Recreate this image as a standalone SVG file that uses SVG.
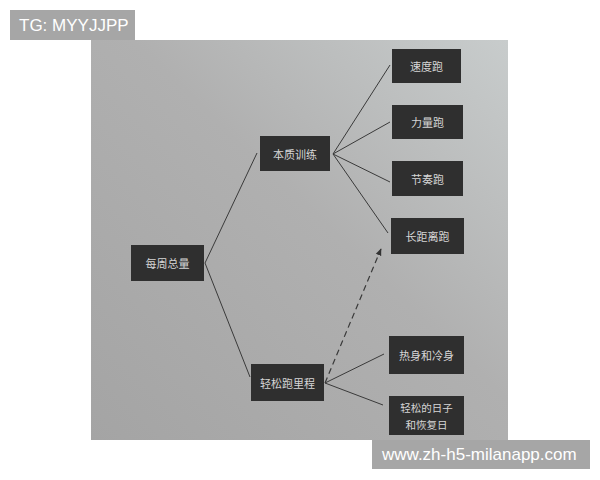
<svg xmlns="http://www.w3.org/2000/svg" width="600" height="480" viewBox="0 0 600 480">
<defs>
<linearGradient id="page" x1="0" y1="1" x2="1" y2="0">
<stop offset="0" stop-color="#a4a4a4"/>
<stop offset="0.55" stop-color="#b0b0b0"/>
<stop offset="1" stop-color="#c8cccc"/>
</linearGradient>
<marker id="ah" viewBox="0 0 10 10" refX="9" refY="5" markerWidth="6" markerHeight="6" orient="auto-start-reverse">
<path d="M0,1 L10,5 L0,9 z" fill="#333"/>
</marker>
<style>
.box{fill:#2f2f2f;}
.lbl{font-family:"Noto Sans CJK SC","Noto Sans",sans-serif;font-size:11px;fill:#d6d6d6;text-anchor:middle;dominant-baseline:central;}
.sm{font-size:10.5px;}
.ln{stroke:#3a3a3a;stroke-width:1;fill:none;}
.dash{stroke:#3a3a3a;stroke-width:1.2;fill:none;stroke-dasharray:6 4;}
.wm{fill:#a6a6a6;}
.wmt{font-family:"Liberation Sans",Arial,sans-serif;font-size:17px;fill:#ffffff;dominant-baseline:central;}
</style>
</defs>
<rect width="600" height="480" fill="#ffffff"/>
<rect x="91" y="40" width="417" height="400" fill="url(#page)"/>
<g id="connectors">
<line class="ln" x1="205" y1="263" x2="257" y2="153"/>
<line class="ln" x1="205" y1="263" x2="250" y2="377"/>
<line class="ln" x1="333" y1="154" x2="390" y2="65"/>
<line class="ln" x1="333" y1="154" x2="390" y2="122"/>
<line class="ln" x1="333" y1="154" x2="390" y2="182"/>
<line class="ln" x1="333" y1="154" x2="388" y2="233"/>
<line class="ln" x1="325" y1="383" x2="384" y2="354"/>
<line class="ln" x1="325" y1="383" x2="383" y2="405"/>
<line class="dash" x1="325" y1="383" x2="381" y2="249" marker-end="url(#ah)"/>
</g>
<g id="n-weekly"><rect class="box" x="131" y="245" width="73" height="36"/><text class="lbl" x="167.5" y="263">每周总量</text></g>
<g id="n-core"><rect class="box" x="260" y="136" width="70" height="35"/><text class="lbl" x="295" y="153.5">本质训练</text></g>
<g id="n-easy"><rect class="box" x="251" y="364" width="73" height="37"/><text class="lbl" x="287.5" y="382.5">轻松跑里程</text></g>
<g id="n-speed"><rect class="box" x="392" y="49" width="69" height="34"/><text class="lbl" x="426.5" y="66">速度跑</text></g>
<g id="n-strength"><rect class="box" x="392" y="105" width="71" height="34"/><text class="lbl" x="427.5" y="122">力量跑</text></g>
<g id="n-tempo"><rect class="box" x="392" y="161" width="71" height="35"/><text class="lbl" x="427.5" y="178.5">节奏跑</text></g>
<g id="n-long"><rect class="box" x="391" y="218" width="73" height="36"/><text class="lbl" x="427.5" y="236">长距离跑</text></g>
<g id="n-warm"><rect class="box" x="389" y="336" width="75" height="38"/><text class="lbl" x="426.5" y="355">热身和冷身</text></g>
<g id="n-rest"><rect class="box" x="389" y="396" width="75" height="39"/><text class="lbl sm" x="426.5" y="407">轻松的日子</text><text class="lbl sm" x="426.5" y="424">和恢复日</text></g>
<g id="wm1"><rect class="wm" x="10" y="10" width="125" height="30"/><text class="wmt" x="19" y="25">TG: MYYJJPP</text></g>
<g id="wm2"><rect class="wm" x="372" y="440" width="218" height="29"/><text class="wmt" x="382" y="454.5">www.zh-h5-milanapp.com</text></g>
</svg>
